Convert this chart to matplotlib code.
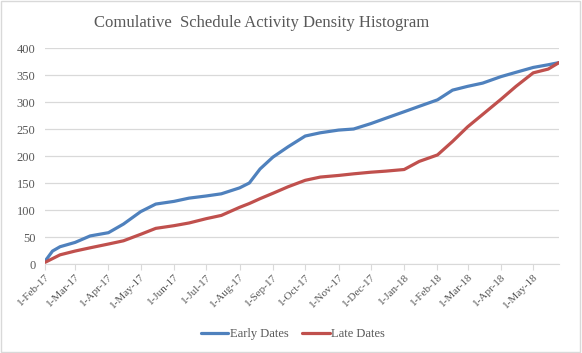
import pandas as pd
import matplotlib.pyplot as plt
import matplotlib.dates as mdates

# cumulative activity counts
dates = ["2017-02-01", "2017-02-08", "2017-02-15", "2017-03-01", "2017-03-15",
         "2017-04-01", "2017-04-15", "2017-05-01", "2017-05-15", "2017-06-01",
         "2017-06-15", "2017-07-01", "2017-07-15", "2017-08-01", "2017-08-10",
         "2017-08-20", "2017-09-01", "2017-09-15", "2017-10-01", "2017-10-15",
         "2017-11-01", "2017-11-15", "2017-12-01", "2017-12-15", "2018-01-01",
         "2018-01-15", "2018-02-01", "2018-02-15", "2018-03-01", "2018-03-15",
         "2018-04-01", "2018-04-15", "2018-05-01", "2018-05-15", "2018-05-25"]
early = [5, 24, 32, 40, 52, 58, 74, 97, 111, 116, 122, 126, 130, 141, 150,
         176, 198, 217, 237, 243, 248, 250, 260, 270, 282, 292, 304, 322, 329,
         335, 347, 355, 364, 369, 373]
late = [3, 10, 17, 24, 30, 37, 43, 55, 66, 71, 76, 84, 90, 105, 112, 121,
        131, 143, 155, 161, 164, 167, 170, 172, 175, 190, 202, 227, 254, 277,
        305, 329, 354, 361, 373]
month_ticks = pd.date_range("2017-02-01", "2018-05-01", freq="MS")

x = pd.to_datetime(dates)
grey = "#595959"

plt.rcParams["font.family"] = ["Liberation Serif", "DejaVu Serif"]

fig = plt.figure(figsize=(5.82, 3.53), dpi=100)
ax = fig.add_axes([0.0773, 0.2521, 0.8832, 0.6119])

ax.plot(x, early, color="#4F81BD", lw=2.3, label="Early Dates", solid_capstyle="round")
ax.plot(x, late, color="#C0504D", lw=2.3, label="Late Dates", solid_capstyle="round")

ax.set_ylim(0, 400)
ax.set_yticks(range(0, 401, 50))
ax.set_xlim(x[0], x[-1])
ax.set_xticks(month_ticks)
ax.xaxis.set_major_formatter(mdates.DateFormatter("%-d-%b-%y"))
ax.grid(axis="y", color="#D9D9D9", lw=0.9)
ax.set_axisbelow(True)

for s in ["top", "right", "left"]:
    ax.spines[s].set_visible(False)
ax.spines["bottom"].set_color("#D9D9D9")
ax.tick_params(axis="y", length=0, labelsize=9, labelcolor=grey, pad=7)
ax.tick_params(axis="x", length=4, color="#D9D9D9", labelsize=8, labelcolor=grey, pad=2)
plt.setp(ax.get_xticklabels(), rotation=45, ha="right", rotation_mode="anchor")

fig.text(0.449, 0.935, "Comulative  Schedule Activity Density Histogram",
         ha="center", va="center", fontsize=12, color=grey)

fig.legend(loc="center", bbox_to_anchor=(0.503, 0.054), ncol=2, frameon=False,
           fontsize=9, handlelength=2.2, handletextpad=0.1, columnspacing=1.1,
           labelcolor=grey)

fig.patches.append(plt.Rectangle((0.002, 0.003), 0.995, 0.993, transform=fig.transFigure,
                                 fill=False, edgecolor="#D9D9D9", lw=1))

fig.savefig("out.png", dpi=100)
